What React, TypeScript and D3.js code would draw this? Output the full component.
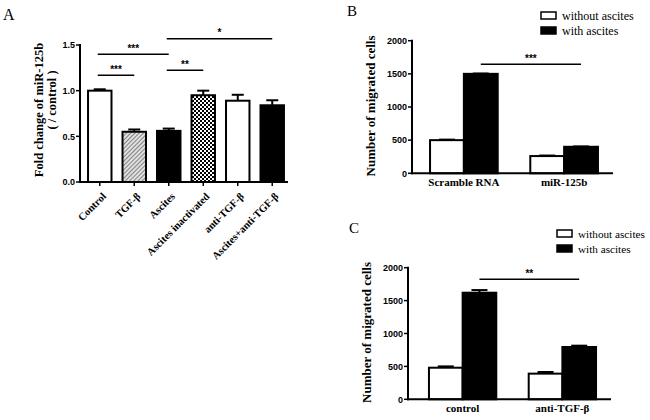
import React from "react";
import * as d3 from "d3";

// ---------- Data ----------
const aCategories = ["Control", "TGF-β", "Ascites", "Ascites inactivated", "anti-TGF-β", "Ascites+anti-TGF-β"];
const aValues = [1.0, 0.55, 0.56, 0.95, 0.89, 0.84];
const aErrors = [0.015, 0.025, 0.025, 0.05, 0.065, 0.055];
const aFills = ["white", "hatch", "black", "checker", "white", "black"];
const aTicks = [0, 0.5, 1.0, 1.5];
const aSig = [
  { from: 0, to: 1, level: 1.168, label: "***" },
  { from: 0, to: 2, level: 1.398, label: "***" },
  { from: 2, to: 3, level: 1.223, label: "**" },
  { from: 2, to: 5, level: 1.569, label: "*" },
];

const seriesNames = ["without ascites", "with ascites"];
const bGroups = ["Scramble RNA", "miR-125b"];
const bWithout = [500, 260];
const bWithoutErr = [8, 8];
const bWith = [1500, 400];
const bWithErr = [5, 5];
const bSigLevel = 1644;

const cGroups = ["control", "anti-TGF-β"];
const cWithout = [480, 390];
const cWithoutErr = [20, 25];
const cWith = [1620, 795];
const cWithErr = [40, 20];
const cSigLevel = 1824;

const countTicks = [0, 500, 1000, 1500, 2000];

const SERIF = "'Liberation Serif', 'Times New Roman', serif";
const SANS = "'Liberation Sans', Arial, sans-serif";

function fillFor(f: string) {
  if (f === "hatch") return "url(#hatch)";
  if (f === "checker") return "url(#checker)";
  return f;
}

function PanelA() {
  const x = d3.scaleBand<string>().domain(aCategories).range([82, 290]).paddingInner(0.32).paddingOuter(0.175);
  const y = d3.scaleLinear().domain([0, 1.5]).range([182, 45]);
  const x0 = 80, x1 = 288;
  const bw = x.bandwidth();
  return (
    <g>
      <text x={3} y={20} fontFamily={SERIF} fontSize={16}>A</text>
      {aCategories.map((c, i) => {
        const bx = x(c)!;
        const top = y(aValues[i]);
        const et = y(aValues[i] + aErrors[i]);
        const cx = bx + bw / 2;
        return (
          <g key={c}>
            <line x1={cx} x2={cx} y1={top} y2={et} stroke="black" strokeWidth={2} />
            <line x1={cx - 6} x2={cx + 6} y1={et} y2={et} stroke="black" strokeWidth={2} />
            <rect x={bx} y={top} width={bw} height={y(0) - top} fill={fillFor(aFills[i])} stroke="black" strokeWidth={2} />
            <line x1={cx} x2={cx} y1={y(0)} y2={y(0) + 4} stroke="black" strokeWidth={1.5} />
            <text
              transform={`translate(${cx + 7},${y(0) + 15}) rotate(-45)`}
              textAnchor="end"
              fontFamily={SERIF}
              fontWeight="bold"
              fontSize={10.5}
            >
              {c}
            </text>
          </g>
        );
      })}
      <line x1={x0} x2={x0} y1={y(1.5) - 1} y2={y(0) + 1} stroke="black" strokeWidth={2} />
      <line x1={x0 - 1} x2={x1} y1={y(0)} y2={y(0)} stroke="black" strokeWidth={2} />
      {aTicks.map((t) => (
        <g key={t}>
          <line x1={x0 - 4} x2={x0} y1={y(t)} y2={y(t)} stroke="black" strokeWidth={1.5} />
          <text x={x0 - 5} y={y(t) + 3.2} textAnchor="end" fontFamily={SANS} fontWeight="bold" fontSize={9}>
            {d3.format(".1f")(t)}
          </text>
        </g>
      ))}
      <text transform={`translate(43,110) rotate(-90)`} textAnchor="middle" fontFamily={SERIF} fontWeight="bold" fontSize={12.5}>
        Fold change of miR-125b
      </text>
      <text transform={`translate(56,100) rotate(-90)`} textAnchor="middle" fontFamily={SERIF} fontWeight="bold" fontSize={12.5}>
        ( / control )
      </text>
      {aSig.map((s, i) => {
        const xa = x(aCategories[s.from])! + bw / 2 - 2;
        const xb = x(aCategories[s.to])! + bw / 2;
        const yy = y(s.level);
        return (
          <g key={i}>
            <line x1={xa} x2={xb} y1={yy} y2={yy} stroke="black" strokeWidth={1.5} />
            <text x={(xa + xb) / 2} y={yy - 2.5} textAnchor="middle" fontFamily={SANS} fontWeight="bold" fontSize={10}>
              {s.label}
            </text>
          </g>
        );
      })}
    </g>
  );
}

function GroupPanel(props: {
  letter: string;
  letterPos: [number, number];
  groups: string[];
  without: number[];
  withoutErr: number[];
  withV: number[];
  withErr: number[];
  sigLevel: number;
  sigLabel: string;
  axisX: number;
  axisEnd: number;
  bandRange: [number, number];
  yRange: [number, number];
  legendX: number;
  legendY: number;
  legendFont: number;
}) {
  const p = props;
  const x = d3.scaleBand<string>().domain(p.groups).range(p.bandRange).paddingInner(0.325).paddingOuter(0.16);
  const xs = d3.scaleBand<string>().domain(seriesNames).range([0, x.bandwidth()]);
  const y = d3.scaleLinear().domain([0, 2000]).range(p.yRange);
  const series = [
    { name: seriesNames[0], vals: p.without, errs: p.withoutErr, fill: "white" },
    { name: seriesNames[1], vals: p.withV, errs: p.withErr, fill: "black" },
  ];
  const bw = xs.bandwidth();
  const sigA = x(p.groups[0])! + xs(seriesNames[1])! + bw / 2;
  const sigB = x(p.groups[1])! + xs(seriesNames[1])! + bw / 2;
  const sy = y(p.sigLevel);
  return (
    <g>
      <text x={p.letterPos[0]} y={p.letterPos[1]} fontFamily={SERIF} fontSize={15}>{p.letter}</text>
      {p.groups.map((g, gi) => (
        <g key={g}>
          {series.map((s) => {
            const bx = x(g)! + xs(s.name)!;
            const top = y(s.vals[gi]);
            const et = y(s.vals[gi] + s.errs[gi]);
            const cx = bx + bw / 2;
            return (
              <g key={s.name}>
                <line x1={cx} x2={cx} y1={top} y2={et} stroke="black" strokeWidth={2} />
                <line x1={cx - 8} x2={cx + 8} y1={et} y2={et} stroke="black" strokeWidth={2} />
                <rect x={bx} y={top} width={bw} height={y(0) - top} fill={s.fill} stroke="black" strokeWidth={2} />
              </g>
            );
          })}
          <text
            x={x(g)! + x.bandwidth() / 2}
            y={y(0) + 13}
            textAnchor="middle"
            fontFamily={SERIF}
            fontWeight="bold"
            fontSize={11}
          >
            {g}
          </text>
        </g>
      ))}
      <line x1={p.axisX} x2={p.axisX} y1={y(2000) - 1} y2={y(0) + 1} stroke="black" strokeWidth={2} />
      <line x1={p.axisX - 1} x2={p.axisEnd} y1={y(0)} y2={y(0)} stroke="black" strokeWidth={2} />
      {countTicks.map((t) => (
        <g key={t}>
          <line x1={p.axisX - 4} x2={p.axisX} y1={y(t)} y2={y(t)} stroke="black" strokeWidth={1.5} />
          <text x={p.axisX - 5} y={y(t) + 3.2} textAnchor="end" fontFamily={SANS} fontWeight="bold" fontSize={9}>
            {t}
          </text>
        </g>
      ))}
      <text
        transform={`translate(${p.axisX - 37},${(y(0) + y(2000)) / 2 - 1}) rotate(-90)`}
        textAnchor="middle"
        fontFamily={SERIF}
        fontWeight="bold"
        fontSize={13}
      >
        Number of migrated cells
      </text>
      <line x1={sigA} x2={sigB} y1={sy} y2={sy} stroke="black" strokeWidth={1.5} />
      <text x={(sigA + sigB) / 2} y={sy - 2.5} textAnchor="middle" fontFamily={SANS} fontWeight="bold" fontSize={10}>
        {p.sigLabel}
      </text>
      {series.map((s, i) => (
        <g key={s.name}>
          <rect x={p.legendX} y={p.legendY + i * 15} width={15} height={7} fill={s.fill} stroke="black" strokeWidth={1.5} />
          <text x={p.legendX + 21} y={p.legendY + i * 15 + 7.5} fontFamily={SERIF} fontSize={p.legendFont}>
            {s.name}
          </text>
        </g>
      ))}
    </g>
  );
}

export default function App() {
  return (
    <svg
      width={650}
      height={420}
      style={{ position: "absolute", left: 0, top: 0, background: "white" }}
    >
      <defs>
        <pattern id="hatch" width={3} height={3} patternUnits="userSpaceOnUse" patternTransform="rotate(45)">
          <rect width={3} height={3} fill="#e0e0e0" />
          <line x1={0} y1={0} x2={0} y2={3} stroke="#444" strokeWidth={1.2} />
        </pattern>
        <pattern id="checker" width={4} height={4} patternUnits="userSpaceOnUse">
          <rect width={4} height={4} fill="white" />
          <rect x={0} y={0} width={2} height={2} fill="black" />
          <rect x={2} y={2} width={2} height={2} fill="black" />
        </pattern>
      </defs>
      <rect width={650} height={420} fill="white" />
      <PanelA />
      <GroupPanel
        letter="B"
        letterPos={[347, 16]}
        groups={bGroups}
        without={bWithout}
        withoutErr={bWithoutErr}
        withV={bWith}
        withErr={bWithErr}
        sigLevel={bSigLevel}
        sigLabel="***"
        axisX={412}
        axisEnd={613}
        bandRange={[414, 614]}
        yRange={[173.3, 40.7]}
        legendX={541}
        legendY={12}
        legendFont={12}
      />
      <GroupPanel
        letter="C"
        letterPos={[349, 233]}
        groups={cGroups}
        without={cWithout}
        withoutErr={cWithoutErr}
        withV={cWith}
        withErr={cWithErr}
        sigLevel={cSigLevel}
        sigLabel="**"
        axisX={408}
        axisEnd={611}
        bandRange={[413, 612]}
        yRange={[399.3, 267.7]}
        legendX={557}
        legendY={230}
        legendFont={11.2}
      />
    </svg>
  );
}
